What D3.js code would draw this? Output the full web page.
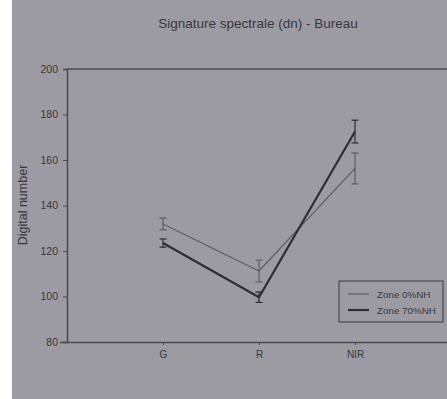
<!DOCTYPE html>
<html><head><meta charset="utf-8">
<script src="https://cdn.jsdelivr.net/npm/d3@7"></script>
<style>
html,body{margin:0;padding:0;background:#fff;}
svg{display:block;}
text{font-family:Arial,"Liberation Sans",sans-serif;fill:#38373c;}
</style></head>
<body>
<script>
const categories = ["G", "R", "NIR"];
const seriesNames = ["Zone 0%NH", "Zone 70%NH"];
const zone0 = [131.9, 111.2, 156.3];
const zone0Err = [2.6, 4.8, 6.8];
const zone70 = [123.5, 99.7, 172.5];
const zone70Err = [1.8, 2.3, 5.0];
const yTicks = [80, 100, 120, 140, 160, 180, 200];
const title = "Signature spectrale (dn) - Bureau";
const yLabel = "Digital number";

const W = 447, H = 399;
const svg = d3.select("body").append("svg").attr("width", W).attr("height", H);
svg.append("rect").attr("x", 12).attr("y", 0).attr("width", W - 12).attr("height", H).attr("fill", "#9c9ba1");

const x = d3.scalePoint().domain(categories).range([67, 451]).padding(1);
const y = d3.scaleLinear().domain([80, 200]).range([342, 69]);

// title
svg.append("text").attr("x", 258).attr("y", 28).attr("text-anchor", "middle")
  .style("font-size", "13.5px").text(title);

// y label
svg.append("text").attr("transform", "translate(27,205) rotate(-90)")
  .attr("text-anchor", "middle").style("font-size", "12.5px").text(yLabel);

// top border
svg.append("line").attr("x1", 67).attr("x2", W).attr("y1", y(200)).attr("y2", y(200))
  .attr("stroke", "#4a494e").attr("stroke-width", 1.5);

// y axis
const ya = svg.append("g").attr("transform", "translate(67,0)")
  .call(d3.axisLeft(y).tickValues(yTicks).tickSize(4).tickPadding(5));
ya.select(".domain").attr("stroke", "#4a494e").attr("stroke-width", 1.5);
ya.selectAll(".tick line").attr("stroke", "#4a494e");
ya.selectAll(".tick text").style("font-size", "10.5px").style("fill", "#38373c").attr("font-family", null);

// x axis
const xa = svg.append("g").attr("transform", `translate(0,${y(80)})`)
  .call(d3.axisBottom(x).tickSize(3).tickPadding(6).tickSizeOuter(0));
xa.select(".domain").attr("d", `M60,0.5H${W}`).attr("stroke", "#4a494e").attr("stroke-width", 1.5);
xa.selectAll(".tick line").attr("stroke", "#4a494e");
xa.selectAll(".tick text").style("font-size", "10px").style("fill", "#38373c").attr("font-family", null);

const series = [
  {name: seriesNames[0], vals: zone0, err: zone0Err, color: "#5e5d63", w: 1.2},
  {name: seriesNames[1], vals: zone70, err: zone70Err, color: "#2e2d32", w: 2.2}
];
const line = d3.line().x((d, i) => x(categories[i])).y(d => y(d));
series.forEach(s => {
  svg.append("path").datum(s.vals).attr("d", line).attr("fill", "none")
    .attr("stroke", s.color).attr("stroke-width", s.w);
  const g = svg.append("g");
  s.vals.forEach((v, i) => {
    const cx = x(categories[i]);
    g.append("line").attr("x1", cx).attr("x2", cx).attr("y1", y(v - s.err[i])).attr("y2", y(v + s.err[i]))
      .attr("stroke", s.color).attr("stroke-width", 1.2);
    [v - s.err[i], v + s.err[i]].forEach(e => {
      g.append("line").attr("x1", cx - 3.5).attr("x2", cx + 3.5).attr("y1", y(e)).attr("y2", y(e))
        .attr("stroke", s.color).attr("stroke-width", 1.2);
    });
  });
});

// legend
const lg = svg.append("g");
lg.append("rect").attr("x", 339).attr("y", 281).attr("width", 104).attr("height", 41)
  .attr("fill", "none").attr("stroke", "#4a494e").attr("stroke-width", 1.2);
series.forEach((s, i) => {
  const ly = 294 + i * 16;
  lg.append("line").attr("x1", 348).attr("x2", 369).attr("y1", ly).attr("y2", ly)
    .attr("stroke", s.color).attr("stroke-width", s.w);
  lg.append("text").attr("x", 377).attr("y", ly + 3.5).style("font-size", "9.8px").text(s.name);
});
</script>
</body></html>
